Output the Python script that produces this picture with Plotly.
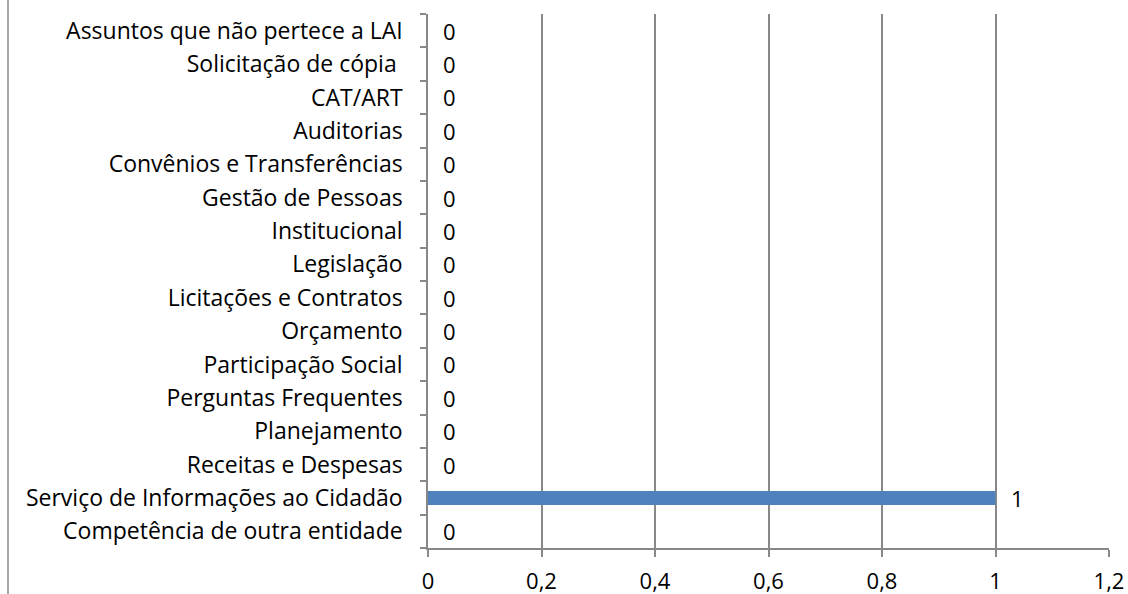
import plotly.graph_objects as go

categories = [
    "Competência de outra entidade",
    "Serviço de Informações ao Cidadão",
    "Receitas e Despesas",
    "Planejamento",
    "Perguntas Frequentes",
    "Participação Social",
    "Orçamento",
    "Licitações e Contratos",
    "Legislação",
    "Institucional",
    "Gestão de Pessoas",
    "Convênios e Transferências",
    "Auditorias",
    "CAT/ART",
    "Solicitação de cópia ",
    "Assuntos que não pertece a LAI",
]
values = [0, 1, 0, 0, 0, 0, 0, 0, 0, 0, 0, 0, 0, 0, 0, 0]
x_ticks = [0, 0.2, 0.4, 0.6, 0.8, 1, 1.2]

FONT = "Open Sans"
FS = 22
LFS = 23
GRID = "#888888"

fig = go.Figure(
    go.Bar(
        y=categories,
        x=values,
        orientation="h",
        marker=dict(color="#4F81BD", line=dict(width=0)),
        width=0.42,
    )
)

for c, v in zip(categories, values):
    fig.add_annotation(
        x=v, y=c, xref="x", yref="y", text=str(v).replace(".", ","),
        showarrow=False, xanchor="left", xshift=13,
        font=dict(family=FONT, size=FS, color="#000000"),
    )

L, R, T, B = 428, 19, 14, 46
W, H = 1128, 594
pw = W - L - R
ph = H - T - B
fig.add_shape(
    type="line", xref="paper", yref="paper",
    x0=(8 - L) / pw, x1=(8 - L) / pw,
    y0=-B / ph, y1=(ph + T) / ph,
    line=dict(color=GRID, width=1.5),
)

fig.update_layout(
    width=W, height=H,
    margin=dict(l=L, r=R, t=T, b=B, pad=0, autoexpand=False),
    paper_bgcolor="white", plot_bgcolor="white",
    separators=",.",
    showlegend=False,
    font=dict(family=FONT, size=FS, color="#000000"),
    xaxis=dict(
        range=[0, 1.2], tickvals=x_ticks,
        showgrid=True, gridcolor=GRID, gridwidth=1.5,
        showline=True, linecolor=GRID, linewidth=1.5,
        ticks="outside", ticklen=7, tickcolor=GRID, tickwidth=1.5,
        zeroline=False, ticklabelstandoff=6, automargin=False,
        tickfont=dict(family=FONT, size=FS, color="#000000"),
    ),
    yaxis=dict(
        categoryorder="array", categoryarray=categories,
        range=[-0.5, len(categories) - 0.5],
        showgrid=False, showline=True, linecolor=GRID, linewidth=1.5,
        ticks="outside", tickson="boundaries", ticklen=6, tickcolor=GRID, tickwidth=1.5,
        tickfont=dict(family=FONT, size=LFS, color="#000000"),
        ticklabelstandoff=19, automargin=False,
    ),
)

fig.write_html(
    "out.html",
    config={"displayModeBar": False},
    post_script="document.body.style.margin='0';document.body.style.overflow='hidden';",
)
